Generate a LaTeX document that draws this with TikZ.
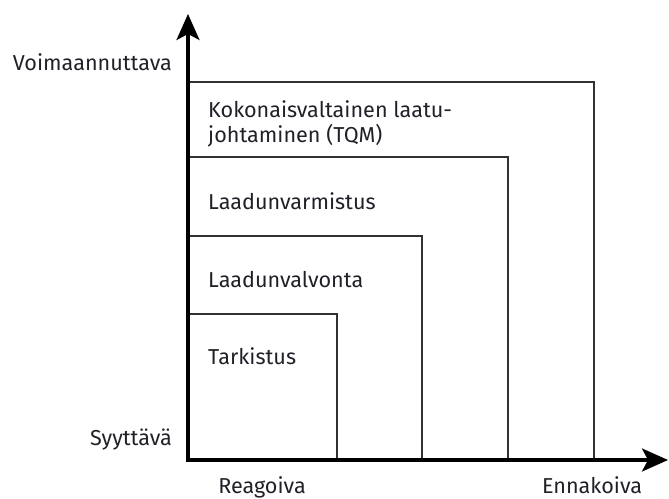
\documentclass[tikz,border=0pt]{standalone}
\usepackage{fontspec}
\setmainfont{Fira Sans}
\usepackage{xcolor}
\usetikzlibrary{arrows.meta}
\definecolor{mytext}{RGB}{35,31,40}
\definecolor{myline}{RGB}{50,50,50}

\begin{document}
\begin{tikzpicture}[x=1pt, y=-1pt,
      lbl/.style={inner sep=0pt, text=mytext, font=\fontsize{21.6}{25}\selectfont},
      box/.style={draw=myline, line width=1.6pt},
      axis/.style={line width=3.2pt, -{Stealth[length=26pt, width=23pt, inset=6pt]}}
  ]
    \useasboundingbox (0,0) rectangle (669,498);

    \coordinate (origin) at (188,460);
    \coordinate (ytip) at (188,14);
    \coordinate (xtip) at (668,460);

    % nested levels
    \coordinate (tqm) at (594,82);
    \coordinate (qa) at (508,157);
    \coordinate (qc) at (422,236);
    \coordinate (insp) at (337,314);
    \draw[box] (origin) rectangle (tqm);
    \draw[box] (origin) rectangle (qa);
    \draw[box] (origin) rectangle (qc);
    \draw[box] (origin) rectangle (insp);

    \node[lbl, anchor=base west, align=left] (tqmtext) at (208,142)
      {Kokonaisvaltainen laatu-\\johtaminen (TQM)};
    \node[lbl, anchor=base west] (qatext) at (208,209) {Laadunvarmistus};
    \node[lbl, anchor=base west] (qctext) at (208,287) {Laadunvalvonta};
    \node[lbl, anchor=base west] (insptext) at (208,364) {Tarkistus};

    % axes
    \draw[axis] (origin) -- (ytip);
    \draw[axis] ([xshift=-1.6pt]origin) -- (xtip);

    \node[lbl, anchor=base east] (ytop) at (172,70) {Voimaannuttava};
    \node[lbl, anchor=base east] (ybot) at (172,445) {Syyttävä};
    \node[lbl, anchor=base] (xleft) at (262,493) {Reagoiva};
    \node[lbl, anchor=base] (xright) at (592,493) {Ennakoiva};
  \end{tikzpicture}
\end{document}
